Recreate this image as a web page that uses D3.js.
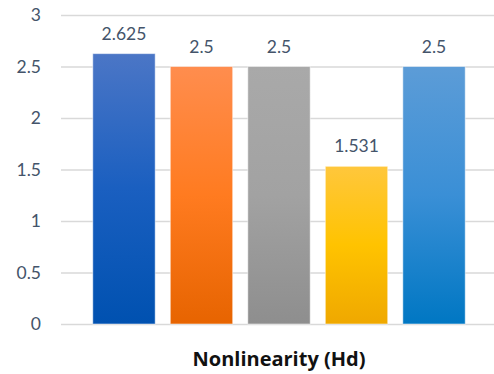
<!DOCTYPE html>
<html>
<head>
<meta charset="utf-8">
<script src="https://cdn.jsdelivr.net/npm/d3@7"></script>
<style>
  html, body { margin: 0; padding: 0; background: #fff; }
  svg { display: block; }
</style>
</head>
<body>
<svg id="chart" width="494" height="374"></svg>
<script>
// Chart data
const categories = ["A", "B", "C", "D", "E"];
const values = [2.625, 2.5, 2.5, 1.531, 2.5];
const valueLabels = ["2.625", "2.5", "2.5", "1.531", "2.5"];
const yTicks = [0, 0.5, 1, 1.5, 2, 2.5, 3];
const tickLabels = ["0", "0.5", "1", "1.5", "2", "2.5", "3"];
const axisTitle = "Nonlinearity (Hd)";

// Per-bar gradient stops: top, middle, bottom
const barGradients = [
  ["#4b76c6", "#1a5fc0", "#0051b0"],
  ["#ff8d4e", "#ff7b20", "#e76400"],
  ["#a9a9a9", "#a2a2a2", "#8e8e8e"],
  ["#ffc73c", "#ffc300", "#efa800"],
  ["#5c9cd7", "#3a8fd6", "#0077c3"]
];

const svg = d3.select("#chart");
const plotLeft = 61, plotRight = 497, plotTop = 15, plotBottom = 324;

const x = d3.scaleBand()
  .domain(categories)
  .range([plotLeft, plotRight])
  .paddingInner(0.195)
  .paddingOuter(0.41);

const y = d3.scaleLinear()
  .domain([0, 3])
  .range([plotBottom, plotTop]);

// Gradients
const defs = svg.append("defs");
barGradients.forEach((stops, i) => {
  const g = defs.append("linearGradient")
    .attr("id", "grad" + i)
    .attr("x1", 0).attr("y1", 0).attr("x2", 0).attr("y2", 1);
  g.append("stop").attr("offset", "0%").attr("stop-color", stops[0]);
  g.append("stop").attr("offset", "50%").attr("stop-color", stops[1]);
  g.append("stop").attr("offset", "100%").attr("stop-color", stops[2]);
});

// Gridlines and y axis labels
const yAxis = d3.axisLeft(y)
  .tickValues(yTicks)
  .tickFormat((d, i) => tickLabels[i])
  .tickSize(-(plotRight - plotLeft))
  .tickPadding(20);

const gy = svg.append("g")
  .attr("transform", `translate(${plotLeft},0)`)
  .call(yAxis);
gy.select(".domain").remove();
gy.selectAll(".tick line")
  .attr("stroke", "#d9d9d9")
  .attr("stroke-width", 1.5);
gy.selectAll(".tick text")
  .attr("fill", "#44546a")
  .style("font-family", "Lato, 'Open Sans', sans-serif")
  .style("font-size", "17.5px");

// Bars
svg.append("g")
  .selectAll("rect")
  .data(values)
  .join("rect")
  .attr("x", (d, i) => x(categories[i]))
  .attr("y", d => y(d))
  .attr("width", x.bandwidth())
  .attr("height", d => y(0) - y(d))
  .attr("fill", (d, i) => `url(#grad${i})`)
  .attr("stroke", "rgba(255,255,255,0.5)")
  .attr("stroke-width", 1);

// Value labels
svg.append("g")
  .selectAll("text")
  .data(values)
  .join("text")
  .attr("x", (d, i) => x(categories[i]) + x.bandwidth() / 2)
  .attr("y", d => y(d) - 14)
  .attr("text-anchor", "middle")
  .attr("fill", "#44546a")
  .style("font-family", "Lato, 'Open Sans', sans-serif")
  .style("font-size", "17.5px")
  .text((d, i) => valueLabels[i]);

// Axis title
svg.append("text")
  .attr("x", 279)
  .attr("y", 366)
  .attr("text-anchor", "middle")
  .attr("fill", "#111")
  .style("font-family", "'Open Sans', Lato, sans-serif")
  .style("font-weight", "bold")
  .style("font-size", "20px")
  .text(axisTitle);
</script>
</body>
</html>
